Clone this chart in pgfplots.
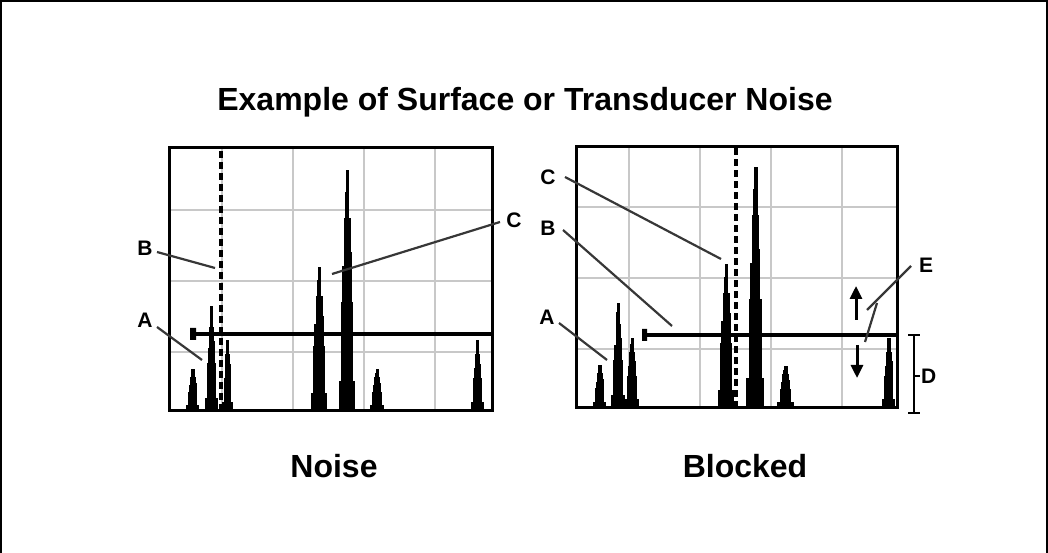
\documentclass[border=0pt]{standalone}
\usepackage{pgfplots}
\pgfplotsset{compat=1.18}
\usepackage{fontspec}
\setmainfont{Liberation Sans}
\usetikzlibrary{arrows.meta}
\definecolor{gridgray}{RGB}{200,200,200}
\definecolor{leader}{RGB}{55,55,55}
\pgfplotsset{
  panel/.style={
    scale only axis,
    anchor=south west,
    xmin=0, ymin=0,
    xtick={53,124,195,266}, ytick={59,130,201},
    xticklabels={}, yticklabels={},
    major tick length=0pt,
    xmajorgrids, ymajorgrids,
    grid style={gridgray, line width=2.2pt},
    axis line style={line width=3pt},
    clip=true,
  },
  peak/.style={fill=black, draw=black, line width=1.1pt, const plot, mark=none},
}
\begin{document}
\begin{tikzpicture}[x=1pt,y=1pt]
\useasboundingbox (0,0) rectangle (1048,553);
\draw[line width=2.4pt] (1,0) -- (1,552) -- (1047,552) -- (1047,0);

\node[anchor=base] at (525,442) {\fontsize{32}{38}\selectfont\bfseries Example of Surface or Transducer Noise};
\node[anchor=base] at (334,75) {\fontsize{32}{38}\selectfont\bfseries Noise};
\node[anchor=base] at (745,75) {\fontsize{32}{38}\selectfont\bfseries Blocked};

% ---------- Left panel: Noise ----------
\begin{axis}[panel, at={(169pt,142pt)}, width=323pt, height=263pt, xmax=323, ymax=263]
\addplot[peak] coordinates {(17.1,0)(17.1,5)(19.2,18)(20.1,25)(21.4,33)(22.2,37)(22.8,41)(25,33)(26,27)(27.1,18)(27.9,5)(29.9,0)};
\addplot[peak] coordinates {(36.7,0)(36.7,12)(38.5,47)(39.3,62)(40.4,83)(41.2,95)(41.7,104)(43.6,83)(44.5,69)(45.4,47)(46.2,12)(48,0)};
\addplot[peak] coordinates {(54,0)(54,8)(55.5,32)(56.1,42)(57,56)(57.6,64)(58,70)(59.6,56)(60.3,46)(61,32)(61.6,8)(63,0)};
\addplot[peak] coordinates {(142.5,0)(142.5,17)(145,64)(146,86)(147.5,114)(148.5,130)(149.2,143)(151.8,114)(153,94)(154.2,64)(155.2,17)(157.5,0)};
\addplot[peak] coordinates {(170.5,0)(170.5,29)(173,108)(174,144)(175.5,192)(176.5,218)(177.2,240)(179.8,192)(181,158)(182.2,108)(183.2,29)(185.5,0)};
\addplot[peak] coordinates {(201.6,0)(201.6,5)(203.8,18)(204.6,25)(205.9,33)(206.7,37)(207.3,41)(209.5,33)(210.6,27)(211.6,18)(212.4,5)(214.4,0)};
\addplot[peak] coordinates {(302.5,0)(302.5,8)(304.5,32)(305.3,42)(306.5,56)(307.3,64)(307.9,70)(309.9,56)(310.9,46)(311.9,32)(312.7,8)(314.5,0)};
% gate
\addplot[black, line width=3.4pt, mark=none] coordinates {(24,77)(323,77)};
\addplot[fill=black, draw=none, mark=none] coordinates {(21,71)(27,71)(27,83)(21,83)(21,71)};
% dashed time marker
\addplot[black, line width=3.8pt, dash pattern=on 7pt off 4pt, mark=none] coordinates {(52,0)(52,263)};
\end{axis}

% ---------- Right panel: Blocked ----------
\begin{axis}[panel, at={(576pt,145pt)}, width=321pt, height=261pt, xmax=321, ymax=261]
\addplot[peak] coordinates {(17.1,0)(17.1,5)(19.2,19)(20.1,25)(21.4,34)(22.2,38)(22.8,42)(25,34)(26,28)(27.1,19)(27.9,5)(29.9,0)};
\addplot[peak] coordinates {(35.9,0)(35.9,12)(38,47)(38.9,62)(40.2,83)(41,95)(41.6,104)(43.8,83)(44.9,69)(45.9,47)(46.7,12)(48.7,0)};
\addplot[peak] coordinates {(49.6,0)(49.6,8)(51.7,31)(52.6,41)(53.9,55)(54.7,63)(55.3,69)(57.5,55)(58.6,46)(59.6,31)(60.4,8)(62.4,0)};
\addplot[peak] coordinates {(142.5,0)(142.5,17)(145,64)(146,86)(147.5,114)(148.5,130)(149.2,143)(151.8,114)(153,94)(154.2,64)(155.2,17)(157.5,0)};
\addplot[peak] coordinates {(171,0)(171,29)(173.8,108)(174.9,144)(176.5,192)(177.6,218)(178.4,240)(181.3,192)(182.6,158)(183.9,108)(185,29)(187.5,0)};
\addplot[peak] coordinates {(202,0)(202,5)(204.5,18)(205.5,25)(207,33)(208,37)(208.7,41)(211.3,33)(212.5,27)(213.7,18)(214.7,5)(217,0)};
\addplot[peak] coordinates {(306.1,0)(306.1,8)(308.2,31)(309.1,41)(310.4,55)(311.2,63)(311.8,69)(314,55)(315.1,46)(316.1,31)(316.9,8)(318.9,0)};
% gate
\addplot[black, line width=3.4pt, mark=none] coordinates {(68,73)(321,73)};
\addplot[fill=black, draw=none, mark=none] coordinates {(66,67)(71,67)(71,79)(66,79)(66,67)};
% dashed time marker
\addplot[black, line width=3.8pt, dash pattern=on 7pt off 4pt, mark=none] coordinates {(160,0)(160,261)};
\end{axis}

% ---------- annotations ----------
\tikzset{lab/.style={font=\fontsize{21}{24}\selectfont\bfseries, inner sep=0pt}}
\begin{scope}[leader, line width=2.2pt]
% left
\draw (157,301) -- (215,285);
\draw (157,226) -- (202,193);
\draw (500,331) -- (332,279);
% right
\draw (565,376) -- (721,294);
\draw (563,323) -- (672,227);
\draw (559,230) -- (607,193);
\draw (911,287) -- (867,243);
\draw (877,250) -- (865,211);
\end{scope}
\node[lab] at (145,305) {B};
\node[lab] at (145,233) {A};
\node[lab] at (514,333) {C};
\node[lab] at (548,376) {C};
\node[lab] at (548,325) {B};
\node[lab] at (547,236) {A};
\node[lab] at (926,288) {E};
\node[lab, anchor=west] at (921,177) {D};
% arrows
\draw[line width=3pt, -{Triangle[width=12pt,length=13pt]}] (856,233) -- (856,267);
\draw[line width=3pt, -{Triangle[width=12pt,length=13pt]}] (857,208) -- (857,175);
% D bracket
\draw[line width=2.4pt] (908,218) -- (920,218);
\draw[line width=2.4pt] (908,140) -- (920,140);
\draw[line width=2.4pt] (914,218) -- (914,140);
\draw[line width=2.4pt] (914,177) -- (920,177);
\end{tikzpicture}
\end{document}
